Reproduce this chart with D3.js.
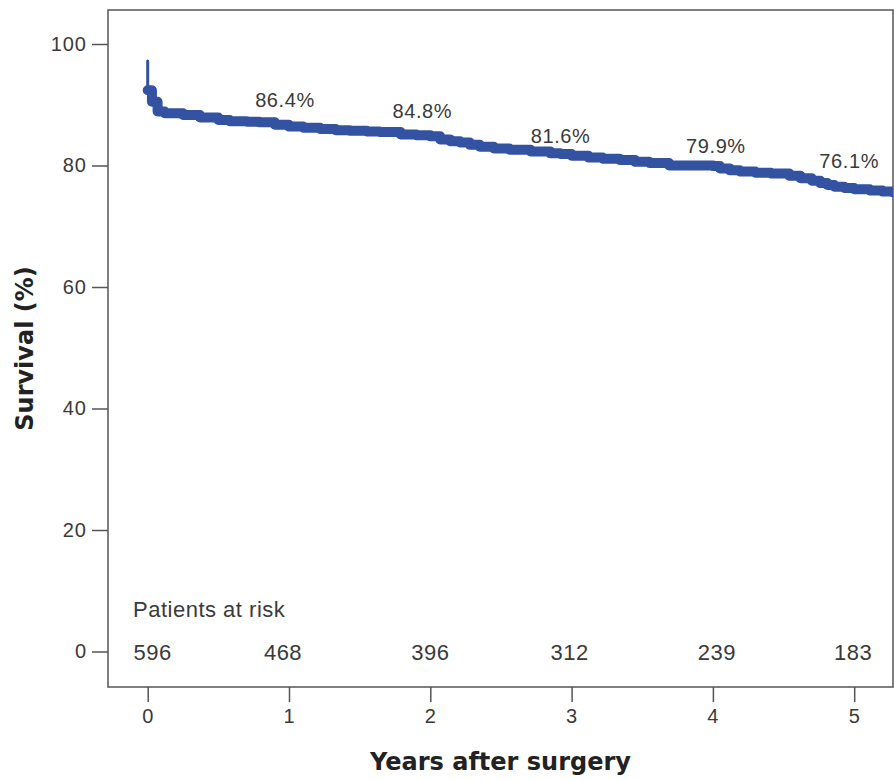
<!DOCTYPE html>
<html>
<head>
<meta charset="utf-8">
<script src="https://cdn.jsdelivr.net/npm/d3@7/dist/d3.min.js"></script>
<style>
  html, body { margin: 0; padding: 0; background: #ffffff; }
  svg { display: block; }
  .tick-label { font-family: "Liberation Sans", Arial, sans-serif; font-size: 20px; fill: #3a3a3a; letter-spacing: 1px; }
  .axis-title { font-family: "DejaVu Sans", Verdana, sans-serif; font-weight: bold; font-size: 24px; fill: #222; }
  .value-label { font-family: "Liberation Sans", Arial, sans-serif; font-size: 20px; fill: #3a3a3a; letter-spacing: 0.6px; }
  .risk-label { font-family: "Liberation Sans", Arial, sans-serif; font-size: 22px; fill: #3a3a3a; letter-spacing: 0.5px; }
</style>
</head>
<body>
<svg id="chart" width="894" height="781"></svg>
<script>
// Kaplan-Meier overall survival after surgery
const years = [0, 0.03, 0.07, 0.12, 0.25, 0.37, 0.5, 0.58, 0.7, 0.79, 0.9, 1.0, 1.1, 1.22, 1.33, 1.43, 1.55, 1.64, 1.79, 1.9,
  2.0, 2.07, 2.14, 2.21, 2.28, 2.35, 2.45, 2.56, 2.71, 2.85, 2.92, 3.0, 3.12, 3.22, 3.34, 3.45, 3.55, 3.69, 4.0, 4.05,
  4.12, 4.19, 4.3, 4.41, 4.54, 4.62, 4.7, 4.76, 4.81, 4.86, 4.93, 5.0, 5.11, 5.2, 5.27];
const survival = [92.4, 90.5, 88.9, 88.6, 88.3, 87.9, 87.5, 87.3, 87.2, 87.1, 86.7, 86.4, 86.2, 86.0, 85.8, 85.7, 85.6, 85.5, 85.1, 85.0,
  84.8, 84.3, 84.0, 83.8, 83.4, 83.1, 82.8, 82.6, 82.3, 82.0, 81.9, 81.6, 81.3, 81.1, 80.9, 80.6, 80.4, 80.0, 79.9, 79.5,
  79.2, 79.0, 78.8, 78.7, 78.3, 77.9, 77.5, 77.1, 76.8, 76.5, 76.3, 76.1, 75.9, 75.7, 75.6];
// first event at time zero
const startSurvival = 97.2;

// yearly survival estimates
const labelYears = [1, 2, 3, 4, 5];
const labelValues = [86.4, 84.8, 81.6, 79.9, 76.1];

// numbers at risk
const riskYears = [0, 1, 2, 3, 4, 5];
const riskCounts = [596, 468, 396, 312, 239, 183];

const xTicks = [0, 1, 2, 3, 4, 5];
const yTicks = [0, 20, 40, 60, 80, 100];

const svg = d3.select("#chart");
const frame = { left: 108, top: 10, right: 893, bottom: 687 };

const x = d3.scaleLinear().domain([0, 5]).range([147.7, 854.2]);
const y = d3.scaleLinear().domain([0, 100]).range([651.5, 44]);

const lineColor = "#3452a2";
const axisColor = "#555";

// plot frame
svg.append("rect")
  .attr("x", frame.left).attr("y", frame.top)
  .attr("width", frame.right - frame.left).attr("height", frame.bottom - frame.top)
  .attr("fill", "none").attr("stroke", axisColor).attr("stroke-width", 1.5);

// y axis
const yAxis = d3.axisLeft(y).tickValues(yTicks).tickFormat(d3.format("d")).tickSize(16).tickPadding(5);
const gy = svg.append("g").attr("transform", `translate(${frame.left},0)`).call(yAxis);
gy.select(".domain").remove();
gy.selectAll(".tick line").attr("stroke", axisColor).attr("stroke-width", 1.5);
gy.selectAll(".tick text").attr("class", "tick-label").attr("font-size", null).attr("font-family", null).attr("fill", null);

// x axis
const xAxis = d3.axisBottom(x).tickValues(xTicks).tickFormat(d3.format("d")).tickSize(15).tickPadding(7);
const gx = svg.append("g").attr("transform", `translate(0,${frame.bottom})`).call(xAxis);
gx.select(".domain").remove();
gx.selectAll(".tick line").attr("stroke", axisColor).attr("stroke-width", 1.5);
gx.selectAll(".tick text").attr("class", "tick-label").attr("font-size", null).attr("font-family", null).attr("fill", null);

// axis titles
svg.append("text").attr("class", "axis-title")
  .attr("x", (frame.left + frame.right) / 2).attr("y", 770)
  .attr("text-anchor", "middle").text("Years after surgery");
svg.append("text").attr("class", "axis-title")
  .attr("transform", `translate(33,${(frame.top + frame.bottom) / 2}) rotate(-90)`)
  .attr("text-anchor", "middle").text("Survival (%)");

// survival curve, clipped to the frame
svg.append("clipPath").attr("id", "plot-clip")
  .append("rect").attr("x", frame.left).attr("y", frame.top)
  .attr("width", frame.right - frame.left).attr("height", frame.bottom - frame.top);

const curveData = years.map((t, i) => ({ t, s: survival[i] }));
const g = svg.append("g").attr("clip-path", "url(#plot-clip)");

g.append("line")
  .attr("x1", x(0)).attr("x2", x(0))
  .attr("y1", y(startSurvival)).attr("y2", y(survival[0]))
  .attr("stroke", lineColor).attr("stroke-width", 3).attr("stroke-linecap", "round");

const line = d3.line().x(d => x(d.t)).y(d => y(d.s)).curve(d3.curveStepAfter);
g.append("path").datum(curveData)
  .attr("d", line)
  .attr("fill", "none").attr("stroke", lineColor)
  .attr("stroke-width", 10).attr("stroke-linejoin", "round").attr("stroke-linecap", "round");

// yearly estimate labels above the curve
const labelShift = [[-4, -19.6], [-8, -18.4], [-11, -12.8], [3, -13], [-5, -21]];
svg.selectAll(".value-label").data(labelYears).join("text")
  .attr("class", "value-label")
  .attr("x", (t, i) => x(t) + labelShift[i][0])
  .attr("y", (t, i) => y(labelValues[i]) + labelShift[i][1])
  .attr("text-anchor", "middle")
  .text((t, i) => labelValues[i].toFixed(1) + "%");

// patients at risk table
svg.append("text").attr("class", "risk-label")
  .attr("x", 133).attr("y", 617).text("Patients at risk");
const riskShift = [5, -6, 0, -2, 4, -1];
svg.selectAll(".risk-count").data(riskYears).join("text")
  .attr("class", "risk-label risk-count")
  .attr("x", (t, i) => x(t) + riskShift[i])
  .attr("y", y(0) + 8)
  .attr("text-anchor", "middle")
  .text((t, i) => riskCounts[i]);
</script>
</body>
</html>
